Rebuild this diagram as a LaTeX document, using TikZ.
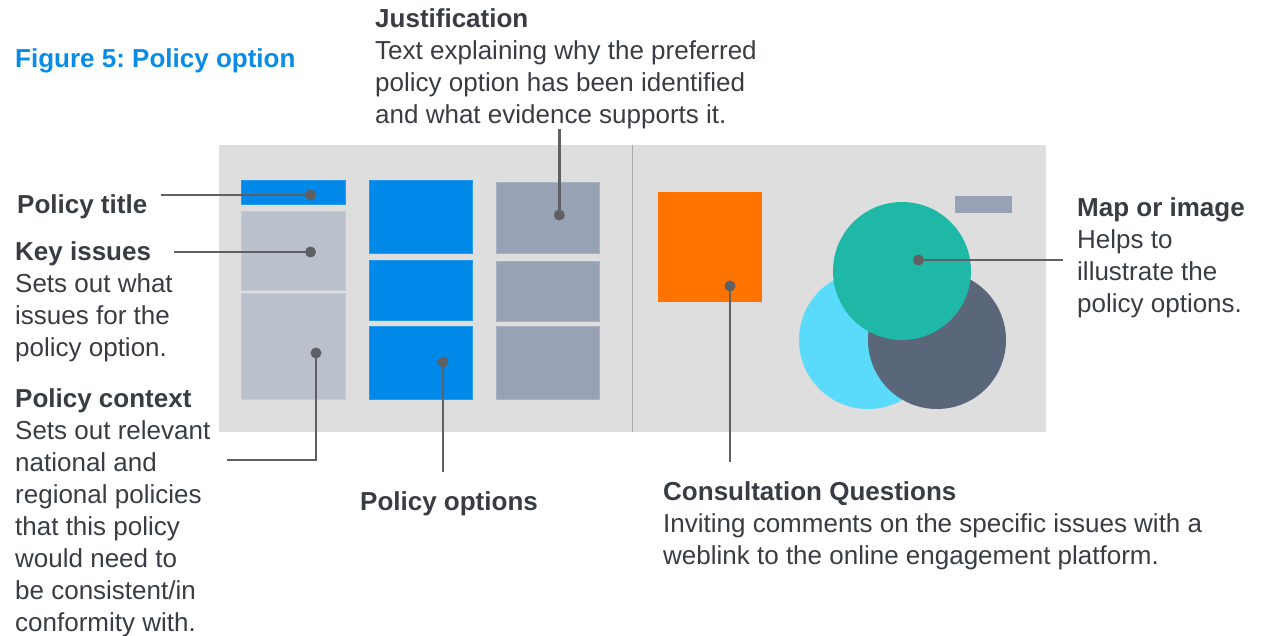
\documentclass[tikz,border=0pt]{standalone}
\usepackage{fontspec}
\setmainfont{Liberation Sans}
\frenchspacing
\definecolor{bggray}{HTML}{DEDEDE}
\definecolor{divgray}{HTML}{ABABAB}
\definecolor{pblue}{HTML}{0089E9}
\definecolor{lgray}{HTML}{BBC1CC}
\definecolor{mgray}{HTML}{97A3B4}
\definecolor{porange}{HTML}{FF7300}
\definecolor{pteal}{HTML}{1FB8A6}
\definecolor{pcyan}{HTML}{5ADBFB}
\definecolor{pslate}{HTML}{5A6679}
\definecolor{conncol}{HTML}{5F6063}
\definecolor{txtcol}{HTML}{393D43}
\definecolor{titleblue}{HTML}{0A8BE6}
\begin{document}
\begin{tikzpicture}[x=1pt,y=-1pt,
  txt/.style={anchor=north west, inner sep=0pt, align=left, text=txtcol, font=\fontsize{26}{32}\selectfont\frenchspacing},
  box/.style={draw=#1!85!white, line width=0.8pt, fill=#1},
  dot/.style={circle, fill=conncol, inner sep=0pt, minimum size=11pt},
  conn/.style={draw=conncol, line width=2.6pt}]
\useasboundingbox (0,0) rectangle (1270,636);
\fill[white] (0,0) rectangle (1270,636);

% background panel
\fill[bggray] (219,145) rectangle (1046,432);
\draw[divgray, line width=1.5pt] (632.7,145) -- (632.7,432);

% column 1
\filldraw[box=pblue] (241.5,180) rectangle (345,204);
\filldraw[box=lgray] (241.5,211) rectangle (345,290);
\filldraw[box=lgray] (241.5,293) rectangle (345,399);
% column 2
\filldraw[box=pblue] (369,180) rectangle (472,253);
\filldraw[box=pblue] (369,260) rectangle (472,320);
\filldraw[box=pblue] (369,326) rectangle (472,399);
% column 3
\filldraw[box=mgray] (496,182) rectangle (599,253);
\filldraw[box=mgray] (496,261) rectangle (599,321);
\filldraw[box=mgray] (496,326) rectangle (599,399);

% right side
\fill[porange] (658,192) rectangle (762,302);
\fill[mgray] (955,196) rectangle (1012,213);
\fill[pcyan] (868,340) circle[radius=69];
\fill[pslate] (937,340) circle[radius=69];
\fill[pteal] (902,271) circle[radius=69];

% texts
\node[txt, text=titleblue] (fig) at (15,44.6) {\strut\bfseries Figure 5: Policy option};
\node[txt] (just) at (375,4.6) {\strut\textbf{Justification}\\Text explaining why the preferred\\policy option has been identified\\and what evidence supports it.};
\node[txt] (ptitle) at (17,190.6) {\strut\textbf{Policy title}};
\node[txt] (key) at (15,237.6) {\strut\textbf{Key issues}\\Sets out what\\issues for the\\policy option.};
\node[txt] (ctx) at (15,385.3) {\strut\textbf{Policy context}\\Sets out relevant\\national and\\regional policies\\that this policy\\would need to\\be consistent/in\\conformity with.};
\node[txt, anchor=base] (opts) at (449,510) {\textbf{Policy options}};
\node[txt] (cons) at (663,477.6) {\strut\textbf{Consultation Questions}\\Inviting comments on the specific issues with a\\weblink to the online engagement platform.};
\node[txt] (map) at (1077,193.6) {\strut\textbf{Map or image}\\Helps to\\illustrate the\\policy options.};

% connector ends
\coordinate (e1) at (161,195);
\coordinate (e2) at (174,252);
\coordinate (e3) at (227,460);
\coordinate (e4) at (443,472);
\coordinate (e5) at (559.3,129);
\coordinate (e6) at (730,462);
\coordinate (e7) at (1063,260);

% dots
\node[dot] (d1) at (310.5,195) {};
\node[dot] (d2) at (310.5,252) {};
\node[dot] (d3) at (316,353) {};
\node[dot] (d4) at (443,362) {};
\node[dot] (d5) at (559.3,215) {};
\node[dot] (d6) at (730,286) {};
\node[dot] (d7) at (918.5,260) {};

% connectors
\draw[conn] (e1) -- (d1.center);
\draw[conn] (e2) -- (d2.center);
\draw[conn] (d3.center) |- (e3);
\draw[conn] (d4.center) -- (e4);
\draw[conn] (d5.center) -- (e5);
\draw[conn] (d6.center) -- (e6);
\draw[conn] (d7.center) -- (e7);
\end{tikzpicture}
\end{document}
